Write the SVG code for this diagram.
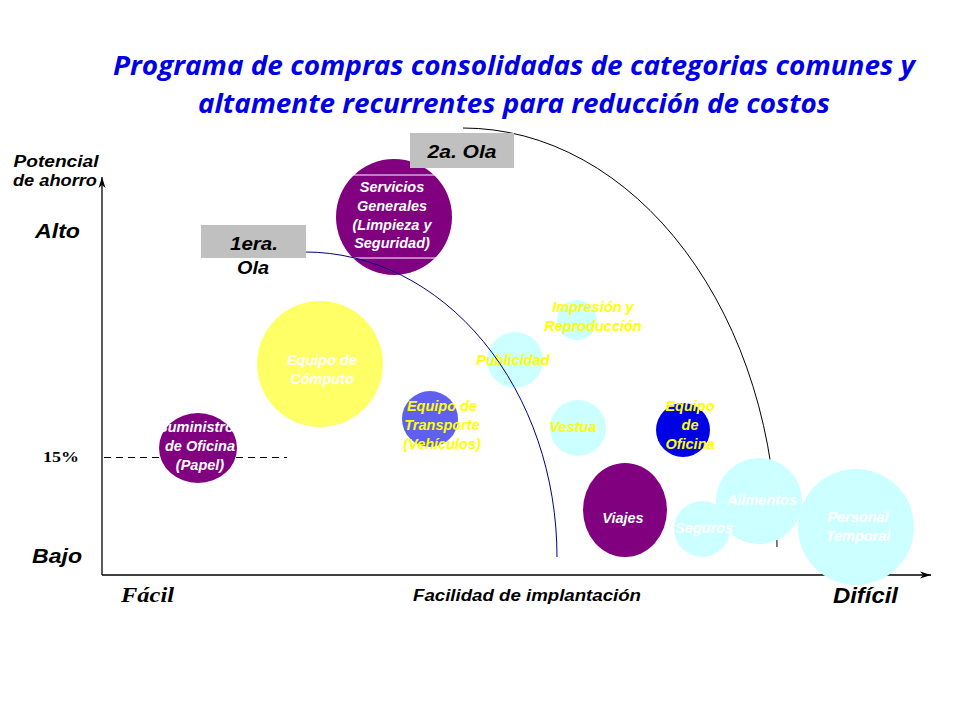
<svg xmlns="http://www.w3.org/2000/svg" width="960" height="720" viewBox="0 0 960 720">
<defs>
<marker id="arr" markerWidth="12" markerHeight="8" refX="11" refY="4" orient="auto" markerUnits="userSpaceOnUse">
<path d="M0,0.5 L11,4 L0,7.5 L3,4 Z" fill="#000"/>
</marker>
<style>
.t{font-family:"Liberation Sans",Arial,sans-serif;font-weight:bold;font-style:italic}
.lbl{font-family:"Liberation Sans",Arial,sans-serif;font-weight:bold;font-style:italic;font-size:14.5px;text-anchor:middle}
.w{fill:#fff}
.y{fill:#ffff00}
.k{fill:#000}
.pur{fill:#800080}
.cy{fill:#ccffff}
.box{fill:#c0c0c0}
</style>
</defs>
<rect width="960" height="720" fill="#fff"/>

<g id="title">
<text x="113" y="75" textLength="802" lengthAdjust="spacingAndGlyphs" style="font-family:'Open Sans','Liberation Sans',sans-serif;font-weight:bold;font-style:italic;font-size:27px;fill:#0000e6">Programa de compras consolidadas de categorias comunes y</text>
<text x="198" y="113" textLength="632" lengthAdjust="spacingAndGlyphs" style="font-family:'Open Sans','Liberation Sans',sans-serif;font-weight:bold;font-style:italic;font-size:27px;fill:#0000e6">altamente recurrentes para reducción de costos</text>
</g>

<g id="connectors">
<line x1="102" y1="575" x2="102" y2="177" stroke="#000" stroke-width="1.3" marker-end="url(#arr)"/>
<line x1="102" y1="575" x2="931" y2="575" stroke="#000" stroke-width="1.3" marker-end="url(#arr)"/>
<line x1="104" y1="457.5" x2="287" y2="457.5" stroke="#000" stroke-width="1.2" stroke-dasharray="7,5"/>
<path id="arc2" d="M463,128 A314,419 0 0 1 777,547" fill="none" stroke="#000" stroke-width="1"/>
</g>

<g id="axis-labels">
<text class="t k" x="56" y="167" text-anchor="middle" font-size="16" textLength="85" lengthAdjust="spacingAndGlyphs">Potencial</text>
<text class="t k" x="55" y="186" text-anchor="middle" font-size="16" textLength="84" lengthAdjust="spacingAndGlyphs">de ahorro</text>
<text class="t k" x="35" y="238" font-size="20" textLength="45" lengthAdjust="spacingAndGlyphs">Alto</text>
<text class="t k" x="32" y="563" font-size="20" textLength="50" lengthAdjust="spacingAndGlyphs">Bajo</text>
<text x="43" y="462" font-size="15" textLength="36" lengthAdjust="spacingAndGlyphs" style="font-family:'Liberation Serif','Times New Roman',serif;font-weight:bold" fill="#000">15%</text>
<text x="121" y="602" font-size="22" textLength="53" lengthAdjust="spacingAndGlyphs" style="font-family:'Liberation Serif','Times New Roman',serif;font-weight:bold;font-style:italic" fill="#000">Fácil</text>
<text class="t k" x="413" y="601" font-size="16" textLength="228" lengthAdjust="spacingAndGlyphs">Facilidad de implantación</text>
<text class="t k" x="833" y="603" font-size="22" textLength="65" lengthAdjust="spacingAndGlyphs">Difícil</text>
</g>

<g id="servicios-generales">
<circle class="pur" cx="394" cy="217" r="58"/>
<line x1="345" y1="175" x2="445" y2="175" stroke="#fff" stroke-width="1"/>
<line x1="345" y1="258" x2="445" y2="258" stroke="#fff" stroke-width="1"/>
<text class="lbl w" x="392" y="192">Servicios</text>
<text class="lbl w" x="392" y="211">Generales</text>
<text class="lbl w" x="392" y="230">(Limpieza y</text>
<text class="lbl w" x="392" y="248">Seguridad)</text>
</g>

<g id="equipo-computo">
<circle cx="320" cy="364" r="63" fill="#ffff66"/>
<text class="lbl w" x="322" y="365">Equipo de</text>
<text class="lbl w" x="322" y="384">Cómputo</text>
</g>

<g id="suministros">
<ellipse class="pur" cx="198" cy="448" rx="39" ry="35"/>
<text class="lbl w" x="200" y="432">Suministros</text>
<text class="lbl w" x="200" y="451">de Oficina</text>
<text class="lbl w" x="200" y="470">(Papel)</text>
</g>

<g id="equipo-transporte">
<circle cx="430" cy="419" r="28" fill="#6060f0"/>
<text class="lbl y" x="442" y="411">Equipo de</text>
<text class="lbl y" x="442" y="430">Transporte</text>
<text class="lbl y" x="442" y="449">(Vehículos)</text>
</g>

<g id="publicidad">
<circle class="cy" cx="515" cy="360" r="28"/>
<text class="lbl y" x="513" y="365">Publicidad</text>
</g>

<g id="impresion">
<circle class="cy" cx="577" cy="320" r="20"/>
<text class="lbl y" x="593" y="312">Impresión y</text>
<text class="lbl y" x="593" y="331">Reproducción</text>
</g>

<g id="vestuario">
<circle class="cy" cx="578" cy="428" r="28"/>
<text class="lbl y" x="573" y="432">Vestua</text>
</g>

<g id="equipo-oficina">
<circle cx="683" cy="430" r="27" fill="#0000e6"/>
<text class="lbl y" x="690" y="411">Equipo</text>
<text class="lbl y" x="690" y="430">de</text>
<text class="lbl y" x="690" y="449">Oficina</text>
</g>

<g id="viajes">
<ellipse class="pur" cx="625" cy="510" rx="42" ry="47"/>
<text class="lbl w" x="623" y="523">Viajes</text>
</g>

<g id="alimentos">
<circle class="cy" cx="759" cy="501" r="43"/>
<text class="lbl w" x="762" y="505">Alimentos</text>
</g>

<g id="seguros">
<circle class="cy" cx="702" cy="529" r="28"/>
<text class="lbl w" x="704" y="533">Seguros</text>
</g>

<g id="personal-temporal">
<circle class="cy" cx="856" cy="527" r="58"/>
<text class="lbl w" x="858" y="522">Personal</text>
<text class="lbl w" x="858" y="541">Temporal</text>
</g>

<g id="wave1-arc">
<path d="M305,252 A252,305 0 0 1 557,557" fill="none" stroke="#000080" stroke-width="1"/>
</g>

<g id="ola2">
<rect class="box" x="410" y="133" width="104" height="35"/>
<text class="t k" x="462" y="158" text-anchor="middle" font-size="18" textLength="69" lengthAdjust="spacingAndGlyphs">2a. Ola</text>
</g>

<g id="ola1">
<rect class="box" x="201" y="225" width="105" height="33"/>
<text class="t k" x="254" y="250" text-anchor="middle" font-size="18" textLength="48" lengthAdjust="spacingAndGlyphs">1era.</text>
<text class="t k" x="253" y="274" text-anchor="middle" font-size="18" textLength="32" lengthAdjust="spacingAndGlyphs">Ola</text>
</g>
</svg>
